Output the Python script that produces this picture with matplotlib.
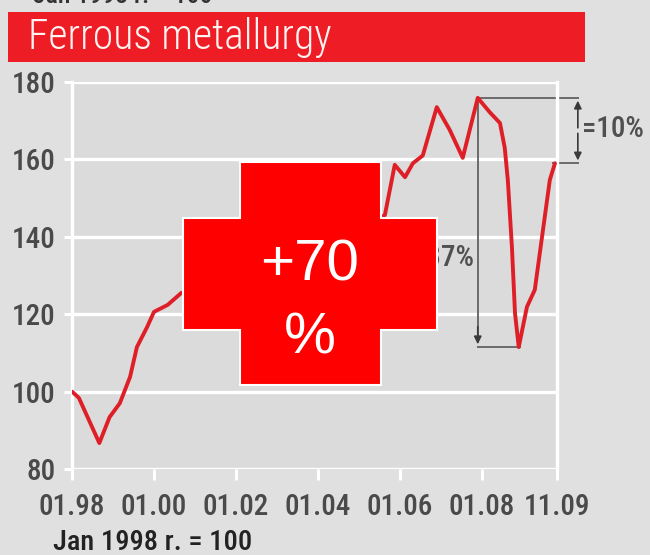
import matplotlib
matplotlib.use("Agg")
import matplotlib.pyplot as plt
from matplotlib.patches import Polygon, Rectangle
from matplotlib import font_manager

# Index of ferrous metallurgy output, Jan 1998 = 100
months = [0, 2, 4, 8, 11, 14, 17, 19, 22, 24, 28, 32,
          36, 48, 60, 72, 84, 91.6,
          94.5, 97.5, 99.8, 102.7, 106.8, 110.6, 114.4, 118.8,
          122.3, 125.3, 126.7, 127.6, 128.8, 129.7, 130.8,
          133.2, 135.5, 137.9, 139.9, 141.4]
index = [100, 98.4, 94.5, 86.7, 93.4, 97, 103.8, 111.5, 116.7, 120.6, 122.4, 125.5,
         126.5, 130, 134, 138, 142, 145.6,
         158.6, 155.4, 159, 161, 173.5, 167.6, 160.4, 175.9,
         172.2, 169.4, 163, 154.7, 137.4, 120.3, 111.5,
         121.9, 126.3, 141.8, 154.7, 159]

tick_months = [0, 24, 48, 72, 96, 120, 142]
tick_labels = ["01.98", "01.00", "01.02", "01.04", "01.06", "01.08", "11.09"]
y_ticks = [80, 100, 120, 140, 160, 180]

title = "Ferrous metallurgy"
base_note = "Jan 1998 r. = 100"
growth_label = "+70\n%"
drop_label = "\u221237%"
rebound_label = "=10%"

W, H = 650, 555
installed = {f.name for f in font_manager.fontManager.ttflist}
narrow = next((f for f in ["Roboto Condensed", "Liberation Sans Narrow",
                           "Open Sans Condensed", "Liberation Sans", "Roboto"]
               if f in installed), "DejaVu Sans")

fig = plt.figure(figsize=(W / 100, H / 100), dpi=100, facecolor="#e0e0e0")


def px(x, y):
    """Figure-pixel position (from top-left) to figure fraction."""
    return x / W, 1 - y / H


# plot area
l, t = px(72, 82)
r, b = px(557, 469)
ax = fig.add_axes([l, b, r - l, t - b])
ax.set_facecolor("#dbdbdb")
ax.set_xlim(0, 142)
ax.set_ylim(80, 180)

for yv in y_ticks:
    ax.axhline(yv, color="white", lw=2.4, zorder=1)
for side in ("left", "right"):
    ax.spines[side].set_color("white")
    ax.spines[side].set_linewidth(2.4)
for side in ("top", "bottom"):
    ax.spines[side].set_visible(False)

ax.set_xticks(tick_months)
ax.set_xticklabels(tick_labels)
ax.set_yticks(y_ticks)
ax.tick_params(axis="x", colors="white", length=8, width=2.2, pad=9,
               labelcolor="#4a4a4a", labelsize=21)
ax.tick_params(axis="y", colors="white", length=6, width=2.2, pad=6,
               labelcolor="#4a4a4a", labelsize=21)
for lab in ax.get_xticklabels() + ax.get_yticklabels():
    lab.set_family(narrow)
    lab.set_fontweight("medium")

ax.plot(months, index, color="#de1f27", lw=2.8, solid_joinstyle="round",
        solid_capstyle="round", zorder=3)

# peak-to-trough and rebound brackets
i_peak = index.index(max(index))
i_low = i_peak + index[i_peak:].index(min(index[i_peak:]))
peak_m, peak_v = months[i_peak], index[i_peak]
low_m, low_v = months[i_low], index[i_low]
end_m, end_v = months[-1], index[-1]
bx = 148.1
gray = "#6a6a6a"
kw = dict(color=gray, lw=1.4, clip_on=False, zorder=2)
ax.plot([peak_m, bx], [peak_v, peak_v], **kw)
ax.plot([end_m - 0.5, bx], [end_v, end_v], **kw)
ax.plot([peak_m, peak_m], [peak_v, low_v + 1.5], **kw)
ax.plot([peak_m, low_m + 0.5], [low_v, low_v], **kw)
akw = dict(arrowstyle="-|>,head_length=0.45,head_width=0.22", color="#3a3a3a", lw=1.2)
ax.annotate("", xy=(peak_m, low_v), xytext=(peak_m, low_v + 6),
            arrowprops=akw, annotation_clip=False)
ax.annotate("", xy=(bx, peak_v), xytext=(bx, (peak_v + end_v) / 2),
            arrowprops=akw, annotation_clip=False)
ax.annotate("", xy=(bx, end_v), xytext=(bx, (peak_v + end_v) / 2),
            arrowprops=akw, annotation_clip=False)
ax.text(118.0, 134.5, drop_label, ha="right", va="center",
        fontsize=21, color="#505050", family=narrow, fontweight="medium", zorder=2)
ax.text(149.3, (peak_v + end_v) / 2 + 0.5, rebound_label, ha="left", va="center",
        fontsize=21, color="#505050", family=narrow, fontweight="medium", clip_on=False)

# title bar
x0, y0 = px(8, 62)
x1, y1 = px(585, 12)
fig.patches.append(Rectangle((x0, y0), x1 - x0, y1 - y0, transform=fig.transFigure,
                             facecolor="#ee1c25", edgecolor="none", zorder=5))
fig.text(*px(28, 38), title, ha="left", va="center", color="#fff4f2",
         fontsize=30, family=narrow, fontweight="light", zorder=6)

# base-period notes
fig.text(*px(33, 3), base_note, ha="left", va="baseline", color="#333333",
         fontsize=18.5, family=narrow, fontweight="medium")
fig.text(*px(53, 550), base_note, ha="left", va="baseline", color="#222222",
         fontsize=20.5, family=narrow, fontweight="medium")

# cross badge
cross = [(240, 162), (381, 162), (381, 218), (437, 218), (437, 330), (381, 330),
         (381, 385), (240, 385), (240, 330), (183, 330), (183, 218), (240, 218)]
fig.patches.append(Polygon([px(x, y) for x, y in cross], closed=True,
                           transform=fig.transFigure, facecolor="#ff0000",
                           edgecolor="white", lw=1.5, zorder=10))
fig.text(*px(310, 302), growth_label, ha="center", va="center", color="white",
         fontsize=42, family="Liberation Sans", linespacing=1.45, zorder=11)

fig.savefig("out.png", dpi=100, facecolor=fig.get_facecolor())
